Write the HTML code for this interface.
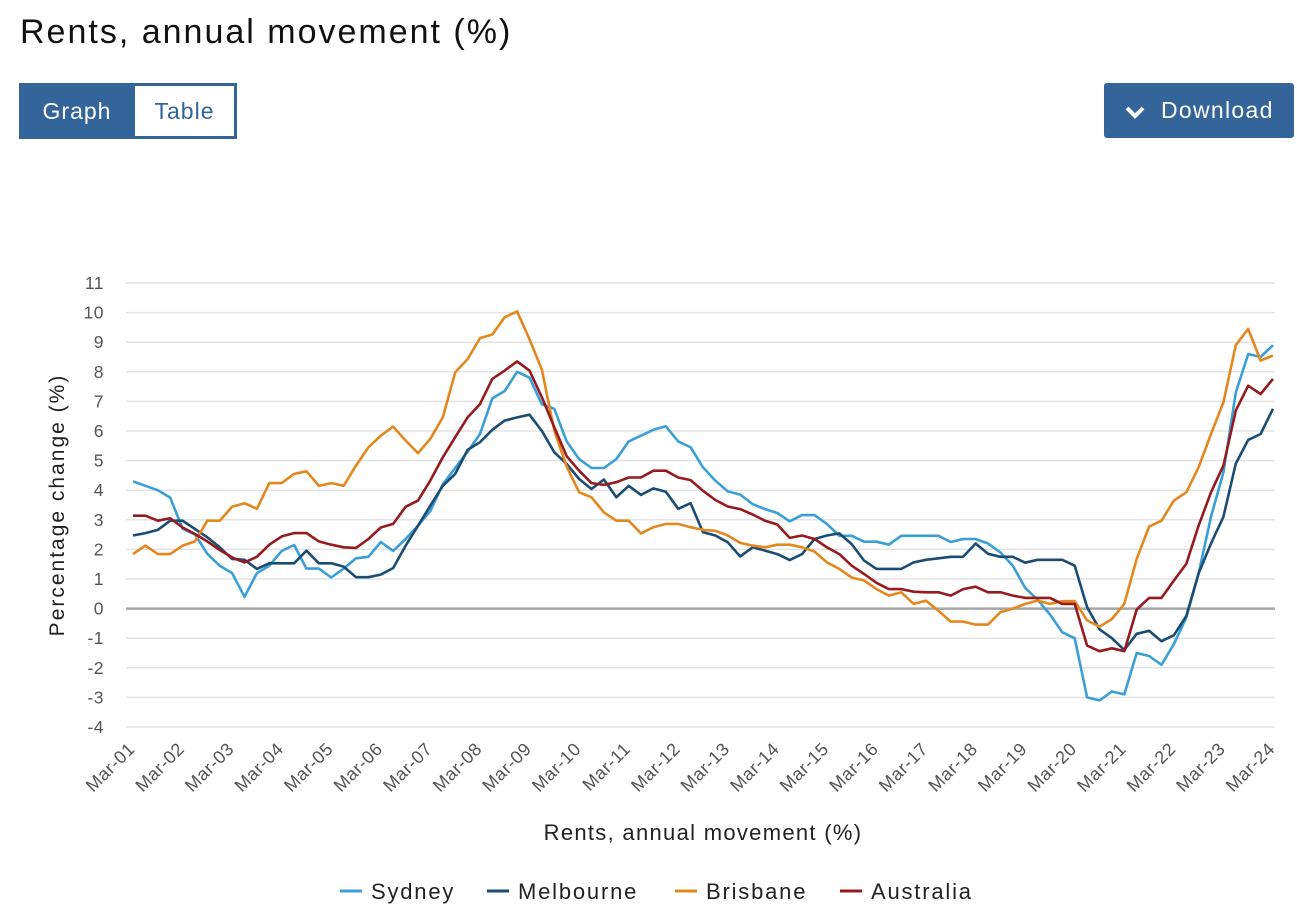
<!DOCTYPE html>
<html><head><meta charset="utf-8"><style>
body{margin:0;width:1297px;height:911px;background:#fff;font-family:"Liberation Sans",sans-serif;position:relative;overflow:hidden}
.t{position:absolute;left:20px;top:13px;font-size:34px;letter-spacing:2px;color:#111}
.bg{position:absolute;left:19px;top:83px;width:218px;height:56px;background:#33649a}
.b1{position:absolute;left:0;top:0;width:116px;height:56px;color:#fff;font-size:23px;letter-spacing:1px;line-height:56px;text-align:center}
.b2{position:absolute;left:116px;top:3px;width:99px;height:50px;background:#fff;color:#33649a;font-size:23px;letter-spacing:1px;line-height:50px;text-align:center}
.dl{position:absolute;left:1104px;top:83px;width:190px;height:55px;background:#33649a;border-radius:3px;color:#fff;font-size:23px;letter-spacing:1.3px;line-height:55px}
</style></head><body>
<div class="t">Rents, annual movement (%)</div>
<div class="bg">
<div class="b1">Graph</div>
<div class="b2">Table</div>
</div>
<div class="dl"><svg width="20" height="14" style="position:absolute;left:21px;top:22px"><path d="M2 3 L10 11 L18 3" stroke="#fff" stroke-width="4" fill="none"/></svg><span style="position:absolute;left:57px">Download</span></div>
<svg id="c" width="1297" height="911" style="position:absolute;left:0;top:0"></svg>
<script>
const yTicks=[11,10,9,8,7,6,5,4,3,2,1,0,-1,-2,-3,-4];
const xLabels=["Mar-01","Mar-02","Mar-03","Mar-04","Mar-05","Mar-06","Mar-07","Mar-08","Mar-09","Mar-10","Mar-11","Mar-12","Mar-13","Mar-14","Mar-15","Mar-16","Mar-17","Mar-18","Mar-19","Mar-20","Mar-21","Mar-22","Mar-23","Mar-24"];
const seriesNames=["Sydney","Melbourne","Brisbane","Australia"];
const sydney=[4.3,4.15,4.0,3.75,2.7,2.5,1.85,1.45,1.2,0.4,1.2,1.45,1.95,2.15,1.35,1.35,1.05,1.35,1.7,1.75,2.25,1.95,2.35,2.8,3.3,4.2,4.75,5.3,5.9,7.1,7.35,8.0,7.8,6.9,6.75,5.65,5.05,4.75,4.75,5.05,5.65,5.84,6.04,6.16,5.65,5.45,4.77,4.32,3.96,3.85,3.53,3.36,3.23,2.95,3.16,3.16,2.86,2.46,2.46,2.26,2.26,2.16,2.46,2.46,2.46,2.46,2.25,2.35,2.35,2.2,1.9,1.45,0.7,0.3,-0.2,-0.8,-1.0,-3.0,-3.1,-2.8,-2.9,-1.5,-1.6,-1.9,-1.2,-0.3,1.2,3.1,4.6,7.3,8.6,8.5,8.9];
const melbourne=[2.47,2.55,2.66,2.97,2.97,2.69,2.41,2.07,1.68,1.65,1.34,1.53,1.53,1.53,1.96,1.53,1.53,1.42,1.06,1.06,1.15,1.37,2.12,2.8,3.48,4.15,4.55,5.36,5.62,6.04,6.35,6.46,6.55,6.0,5.28,4.89,4.38,4.04,4.36,3.76,4.15,3.84,4.06,3.95,3.37,3.56,2.58,2.47,2.24,1.76,2.07,1.96,1.84,1.64,1.84,2.35,2.47,2.54,2.18,1.62,1.34,1.34,1.34,1.56,1.65,1.7,1.75,1.75,2.2,1.85,1.75,1.75,1.55,1.65,1.65,1.65,1.45,0.05,-0.7,-1.0,-1.4,-0.85,-0.75,-1.1,-0.9,-0.25,1.2,2.2,3.1,4.9,5.7,5.9,6.75];
const brisbane=[1.84,2.13,1.84,1.84,2.13,2.27,2.97,2.97,3.44,3.56,3.37,4.24,4.24,4.55,4.64,4.15,4.24,4.15,4.83,5.45,5.84,6.15,5.68,5.25,5.74,6.46,7.98,8.43,9.14,9.26,9.84,10.04,9.1,8.07,6.01,4.8,3.93,3.76,3.25,2.97,2.97,2.54,2.75,2.86,2.86,2.75,2.66,2.63,2.47,2.22,2.13,2.07,2.16,2.16,2.07,1.93,1.56,1.34,1.05,0.95,0.66,0.44,0.55,0.16,0.27,-0.07,-0.44,-0.44,-0.54,-0.54,-0.12,0,0.16,0.27,0.16,0.25,0.25,-0.4,-0.61,-0.35,0.16,1.68,2.77,2.97,3.65,3.93,4.78,5.9,6.97,8.9,9.45,8.38,8.55];
const australia=[3.14,3.14,2.97,3.05,2.74,2.52,2.27,1.98,1.73,1.56,1.75,2.16,2.44,2.55,2.55,2.27,2.16,2.07,2.05,2.35,2.74,2.86,3.44,3.65,4.33,5.11,5.79,6.46,6.91,7.76,8.04,8.35,8.04,7.14,6.13,5.15,4.66,4.24,4.18,4.27,4.43,4.43,4.66,4.66,4.43,4.34,3.98,3.67,3.45,3.36,3.18,2.97,2.84,2.39,2.47,2.35,2.07,1.84,1.45,1.17,0.87,0.66,0.66,0.57,0.55,0.55,0.44,0.66,0.74,0.55,0.55,0.44,0.36,0.36,0.36,0.16,0.16,-1.25,-1.44,-1.34,-1.44,-0.03,0.36,0.36,0.95,1.51,2.81,3.93,4.83,6.69,7.53,7.25,7.76];
const colors=["#3a9fd6","#1b4c72","#e4871e","#971a1e"];
const NS="http://www.w3.org/2000/svg";
const svg=document.getElementById("c");
const X0=133,X1=1273,Y0=283,Y1=727,nQ=sydney.length;
function xs(i){return X0+(X1-X0)*i/(nQ-1);}
function ys(v){return Y0+(Y1-Y0)*(11-v)/15;}
function mk(t,a,txt){const e=document.createElementNS(NS,t);for(const k in a)e.setAttribute(k,a[k]);if(txt!=null)e.textContent=txt;svg.appendChild(e);return e;}
yTicks.forEach(v=>{
 const g=mk("line",{x1:126,x2:1275,y1:ys(v),y2:ys(v),stroke:v===0?"#a6a6a6":"#e3e3e3","stroke-width":v===0?2.5:1.5});
 
 
 const t=mk("text",{x:104,y:ys(v)+6,"text-anchor":"end","font-size":17.5,fill:"#555","letter-spacing":"0.5"},String(v));
 
 
});
xLabels.forEach((l,i)=>{
 const x=xs(i*4)+3, y=750;
 const t=mk("text",{x:x,y:y,"text-anchor":"end","font-size":18,fill:"#555","letter-spacing":"0.6",transform:`rotate(-45 ${x} ${y})`},l);
 
 
});
[sydney,melbourne,brisbane,australia].forEach((s,k)=>{
 const p=mk("polyline",{points:s.map((v,i)=>xs(i).toFixed(1)+","+ys(v).toFixed(1)).join(" "),fill:"none",stroke:colors[k],"stroke-width":2.6,"stroke-linejoin":"round"});
 
 
});
const yt=mk("text",{x:0,y:0,"text-anchor":"middle","font-size":21,fill:"#222","letter-spacing":"2",transform:"translate(64 505) rotate(-90)"},"Percentage change (%)");


const xt=mk("text",{x:703,y:840,"text-anchor":"middle","font-size":22,fill:"#222","letter-spacing":"1.3"},"Rents, annual movement (%)");


const lx=[340,487,675,840];
seriesNames.forEach((n,k)=>{
 const l=mk("line",{x1:lx[k],x2:lx[k]+22,y1:891,y2:891,stroke:colors[k],"stroke-width":3});
 
 
 const t=mk("text",{x:lx[k]+31,y:899,"font-size":22,fill:"#222","letter-spacing":"1.8"},n);
 
 
});
</script>
</body></html>
